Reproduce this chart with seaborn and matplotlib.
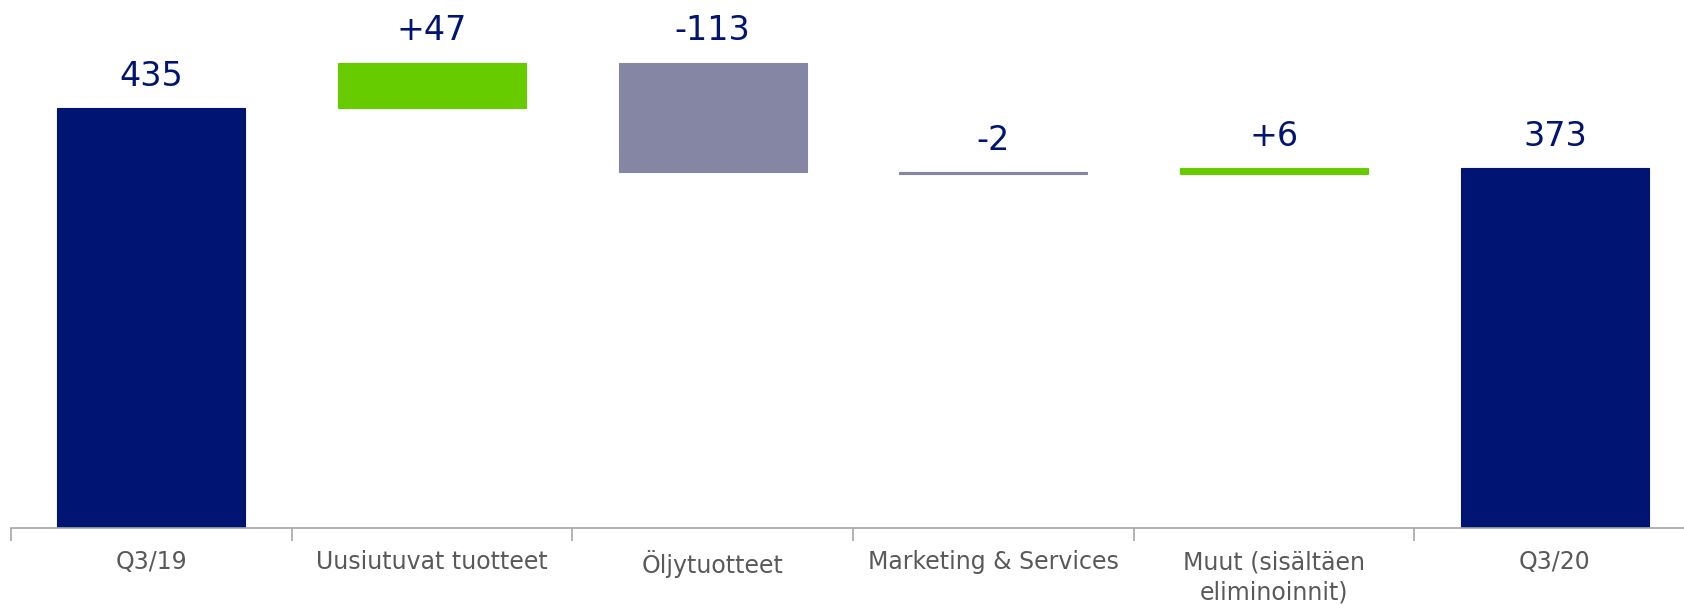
import matplotlib.pyplot as plt
import seaborn as sns
import numpy as np

# Waterfall: Q3/19 -> Q3/20
categories = ["Q3/19", "Uusiutuvat tuotteet", "Öljytuotteet",
              "Marketing & Services", "Muut (sisältäen\neliminoinnit)", "Q3/20"]
start_value = 435
changes = [47, -113, -2, 6]
end_value = 373
labels = ["435", "+47", "-113", "-2", "+6", "373"]

navy = "#001473"
green = "#66CC00"
grey = "#8586A3"

# bar heights / bottoms for the floating bars
running = start_value + np.cumsum([0] + changes)
heights = [start_value] + [abs(c) for c in changes] + [end_value]
bottoms = [0] + [min(running[i], running[i + 1]) for i in range(len(changes))] + [0]
tops = [b + h for b, h in zip(bottoms, heights)]
colors = [navy] + [green if c > 0 else grey for c in changes] + [navy]

sns.set_style("white")
plt.rcParams['font.family'] = ['DejaVu Sans Condensed', 'DejaVu Sans']

fig = plt.figure(figsize=(16.84, 6.05), dpi=100)
ax = fig.add_axes([0.0064, 0.127, 0.9936, 0.873])

sns.barplot(x=categories, y=heights, bottom=bottoms, width=0.67,
            color=navy, ax=ax, linewidth=0)
for patch, c in zip(ax.patches, colors):
    patch.set_facecolor(c)
    patch.set_edgecolor(c)
    patch.set_linewidth(0.8)

for i, (t, lab) in enumerate(zip(tops, labels)):
    ax.annotate(lab, (i, t), xytext=(0, 11), textcoords="offset points",
                ha="center", va="bottom", fontsize=24, color=navy)

ax.set_ylim(0, 547)
ax.set_xlim(-0.5, 5.46)
ax.set_yticks([])
for s in ["top", "right", "left"]:
    ax.spines[s].set_visible(False)
ax.spines["bottom"].set_color("#a6a6a6")
ax.spines["bottom"].set_linewidth(1.2)

ax.set_xticks(range(len(categories)))
ax.set_xticklabels(categories, fontsize=17, color="#595959", linespacing=1.3)
ax.tick_params(axis="x", which="major", length=0, pad=16)
ax.set_xticks(np.arange(-0.5, 5.0, 1.0), minor=True)
ax.tick_params(axis="x", which="minor", bottom=True, length=9, width=1.2,
               color="#a6a6a6")

fig.savefig("out.png", dpi=100)
